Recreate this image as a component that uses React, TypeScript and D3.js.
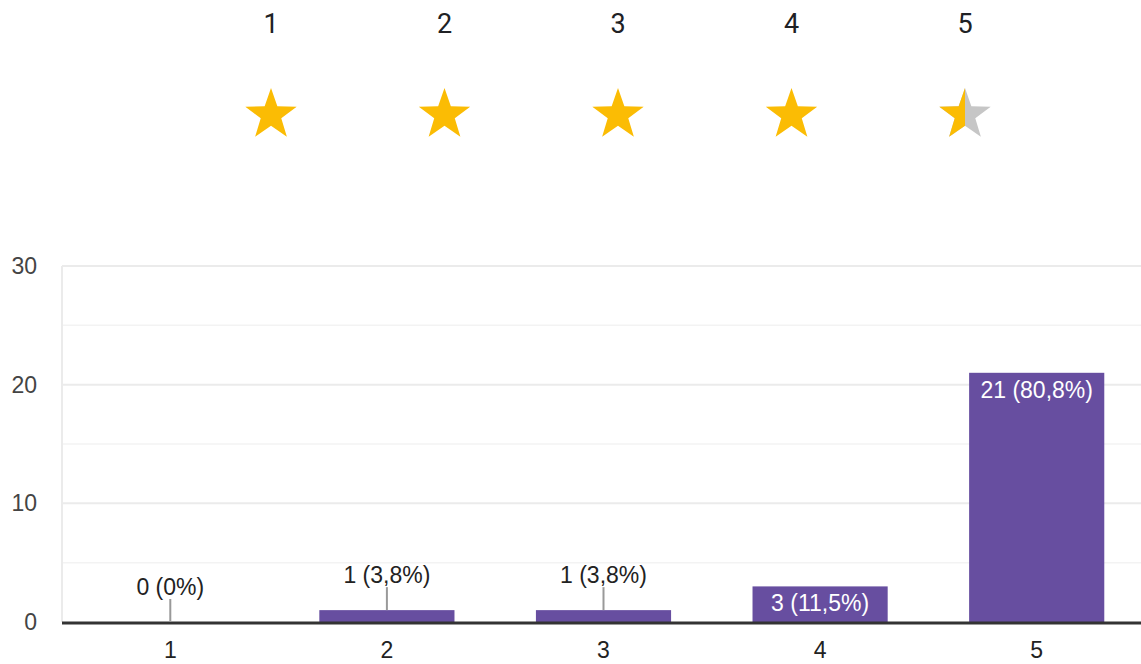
import React, { useEffect, useRef } from 'react';
import * as d3 from 'd3';

const ratings = ['1', '2', '3', '4', '5'];
const counts = [0, 1, 1, 3, 21];
const percents = ['0%', '3,8%', '3,8%', '11,5%', '80,8%'];
const starFill = [1, 1, 1, 1, 0.5];
const yTicks = [0, 10, 20, 30];

const W = 1141;
const H = 664;
const FONT = 'Liberation Sans, Arial, sans-serif';

function starPath(cx: number, cy: number, R: number, r: number) {
  const pts: [number, number][] = [];
  for (let i = 0; i < 10; i++) {
    const rad = i % 2 === 0 ? R : r;
    const a = -Math.PI / 2 + (i * Math.PI) / 5;
    pts.push([cx + rad * Math.cos(a), cy + rad * Math.sin(a)]);
  }
  return d3.line()(pts) + 'Z';
}

const App: React.FC = () => {
  const svgRef = useRef<SVGSVGElement>(null);

  useEffect(() => {
    if (!svgRef.current) return;
    const svg = d3.select(svgRef.current);
    svg.selectAll('*').remove();

    const defs = svg.append('defs');

    // star header
    const sx = d3.scalePoint<string>().domain(ratings).range([271, 965]);
    const header = svg.append('g');
    header.selectAll('text.rt')
      .data(ratings)
      .enter()
      .append('text')
      .attr('x', d => sx(d)!)
      .attr('y', 33)
      .attr('text-anchor', 'middle')
      .attr('font-family', 'Roboto, sans-serif')
      .attr('font-size', 27)
      .attr('fill', '#202124')
      .text(d => d);

    const R = 27;
    ratings.forEach((d, i) => {
      const cx = sx(d)!;
      const cy = 115;
      const p = starPath(cx, cy, R, R * 0.4);
      const f = starFill[i];
      if (f < 1) {
        header.append('path').attr('d', p).attr('fill', '#c6c6c6');
        const id = `clip-${i}`;
        defs.append('clipPath').attr('id', id)
          .append('rect')
          .attr('x', cx - R)
          .attr('y', cy - R)
          .attr('width', 2 * R * f)
          .attr('height', 2 * R);
        header.append('path').attr('d', p).attr('fill', '#fbbc04').attr('clip-path', `url(#${id})`);
      } else {
        header.append('path').attr('d', p).attr('fill', '#fbbc04');
      }
    });

    // bar chart
    const left = 62;
    const right = 1145;
    const top = 266;
    const bottom = 622;

    const x = d3.scaleBand<string>().domain(ratings).range([left, right]).paddingInner(0.376).paddingOuter(0.188);
    const y = d3.scaleLinear().domain([0, 30]).range([bottom, top]);

    const grid = svg.append('g');
    const minor = d3.range(5, 30, 10);
    grid.selectAll('line.minor')
      .data(minor)
      .enter()
      .append('line')
      .attr('x1', left).attr('x2', W)
      .attr('y1', d => y(d)).attr('y2', d => y(d))
      .attr('stroke', '#f3f3f3').attr('stroke-width', 1.5);
    grid.selectAll('line.major')
      .data(yTicks.filter(t => t > 0))
      .enter()
      .append('line')
      .attr('x1', left).attr('x2', W)
      .attr('y1', d => y(d)).attr('y2', d => y(d))
      .attr('stroke', '#ebebeb').attr('stroke-width', 2);
    grid.append('line')
      .attr('x1', left).attr('x2', left)
      .attr('y1', y(30)).attr('y2', bottom)
      .attr('stroke', '#ebebeb').attr('stroke-width', 2);

    svg.append('g').selectAll('text')
      .data(yTicks)
      .enter()
      .append('text')
      .attr('x', 37)
      .attr('y', d => y(d) + 8)
      .attr('text-anchor', 'end')
      .attr('font-family', FONT)
      .attr('font-size', 23)
      .attr('fill', '#444')
      .text(d => d);

    const data = ratings.map((r, i) => ({ r, c: counts[i], p: percents[i] }));

    svg.append('g').selectAll('rect')
      .data(data)
      .enter()
      .append('rect')
      .attr('x', d => x(d.r)!)
      .attr('width', x.bandwidth())
      .attr('y', d => y(d.c))
      .attr('height', d => bottom - y(d.c))
      .attr('fill', '#674ea0');

    // baseline
    svg.append('line')
      .attr('x1', left).attr('x2', W)
      .attr('y1', bottom + 1).attr('y2', bottom + 1)
      .attr('stroke', '#333').attr('stroke-width', 3);

    // labels
    const lab = svg.append('g');
    data.forEach(d => {
      const cx = x(d.r)! + x.bandwidth() / 2;
      const inside = bottom - y(d.c) > 25;
      const txt = `${d.c} (${d.p})`;
      if (inside) {
        lab.append('text')
          .attr('x', cx)
          .attr('y', y(d.c) + 25)
          .attr('text-anchor', 'middle')
          .attr('font-family', FONT)
          .attr('font-size', 23)
          .attr('fill', '#fff')
          .text(txt);
      } else {
        const barTop = y(d.c);
        lab.append('line')
          .attr('x1', cx).attr('x2', cx)
          .attr('y1', barTop).attr('y2', barTop - 23)
          .attr('stroke', '#999').attr('stroke-width', 2);
        lab.append('text')
          .attr('x', cx)
          .attr('y', barTop - 27)
          .attr('text-anchor', 'middle')
          .attr('font-family', FONT)
          .attr('font-size', 23)
          .attr('fill', '#222')
          .text(txt);
      }
    });

    svg.append('g').selectAll('text')
      .data(ratings)
      .enter()
      .append('text')
      .attr('x', d => x(d)! + x.bandwidth() / 2)
      .attr('y', 658)
      .attr('text-anchor', 'middle')
      .attr('font-family', FONT)
      .attr('font-size', 23)
      .attr('fill', '#222')
      .text(d => d);
  }, []);

  return (
    <svg ref={svgRef} width={W} height={H} viewBox={`0 0 ${W} ${H}`}
      style={{ position: 'absolute', left: 0, top: 0, background: '#fff' }} />
  );
};

export default App;
